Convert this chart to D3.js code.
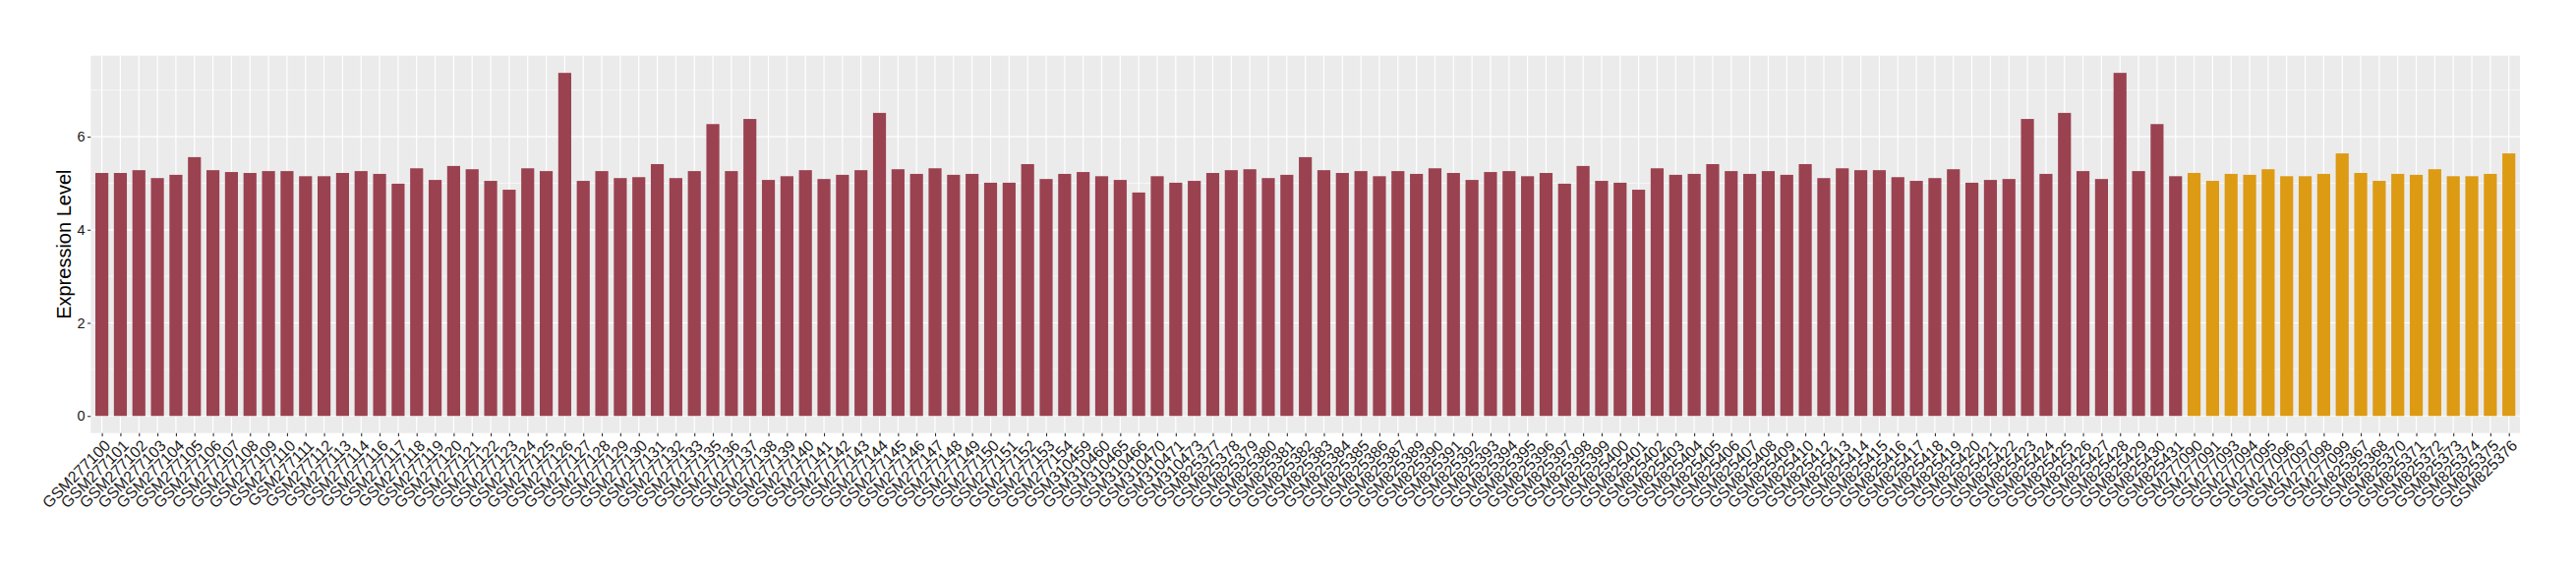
<!DOCTYPE html>
<html>
<head>
<meta charset="utf-8">
<script src="https://cdn.jsdelivr.net/npm/d3@7"></script>
<style>
  html, body { margin: 0; padding: 0; background: #ffffff; }
  svg { display: block; }
  text { font-family: "Liberation Sans", Arial, Helvetica, sans-serif; }
</style>
</head>
<body>
<svg id="chart" width="2620" height="580"></svg>
<script>
// ---- data ----
const samplesGroup1 = [
  "GSM277100","GSM277101","GSM277102","GSM277103","GSM277104","GSM277105","GSM277106","GSM277107",
  "GSM277108","GSM277109","GSM277110","GSM277111","GSM277112","GSM277113","GSM277114","GSM277116",
  "GSM277117","GSM277118","GSM277119","GSM277120","GSM277121","GSM277122","GSM277123","GSM277124",
  "GSM277125","GSM277126","GSM277127","GSM277128","GSM277129","GSM277130","GSM277131","GSM277132",
  "GSM277133","GSM277135","GSM277136","GSM277137","GSM277138","GSM277139","GSM277140","GSM277141",
  "GSM277142","GSM277143","GSM277144","GSM277145","GSM277146","GSM277147","GSM277148","GSM277149",
  "GSM277150","GSM277151","GSM277152","GSM277153","GSM277154",
  "GSM310459","GSM310460","GSM310465","GSM310466","GSM310470","GSM310471","GSM310473",
  "GSM825377","GSM825378","GSM825379","GSM825380","GSM825381","GSM825382","GSM825383","GSM825384",
  "GSM825385","GSM825386","GSM825387","GSM825389","GSM825390","GSM825391","GSM825392","GSM825393",
  "GSM825394","GSM825395","GSM825396","GSM825397","GSM825398","GSM825399","GSM825400","GSM825401",
  "GSM825402","GSM825403","GSM825404","GSM825405","GSM825406","GSM825407","GSM825408","GSM825409",
  "GSM825410","GSM825412","GSM825413","GSM825414","GSM825415","GSM825416","GSM825417","GSM825418",
  "GSM825419","GSM825420","GSM825421","GSM825422","GSM825423","GSM825424","GSM825425","GSM825426",
  "GSM825427","GSM825428","GSM825429","GSM825430","GSM825431"
];
const valuesGroup1 = [
  5.22, 5.22, 5.28, 5.11, 5.18, 5.56, 5.28, 5.24, 5.22, 5.26, 5.26, 5.15, 5.15, 5.22, 5.26, 5.20,
  4.99, 5.32, 5.07, 5.37, 5.30, 5.05, 4.86, 5.32, 5.26, 7.37,
  5.05, 5.26, 5.11, 5.13, 5.41, 5.11, 5.26, 6.27, 5.26, 6.38, 5.07, 5.15, 5.28, 5.09, 5.18, 5.28,
  6.51, 5.30, 5.20, 5.32, 5.18, 5.20, 5.01, 5.01, 5.41, 5.09, 5.20,
  5.24, 5.15, 5.07, 4.80, 5.15, 5.01, 5.05,
  5.22, 5.28, 5.30, 5.11, 5.18, 5.56, 5.28, 5.22, 5.26, 5.15, 5.26, 5.20, 5.32, 5.22, 5.07, 5.24,
  5.26, 5.15, 5.22, 4.99, 5.37, 5.05, 5.01, 4.86, 5.32, 5.18, 5.20, 5.41, 5.26, 5.20, 5.26, 5.18,
  5.41, 5.11, 5.32, 5.28, 5.28, 5.13, 5.05, 5.11, 5.30, 5.01, 5.07, 5.09, 6.38, 5.20, 6.51, 5.26,
  5.09, 7.37, 5.26, 6.27, 5.15
];
const samplesGroup2 = [
  "GSM277090","GSM277091","GSM277093","GSM277094","GSM277095","GSM277096","GSM277097","GSM277098",
  "GSM277099","GSM825367","GSM825368","GSM825370","GSM825371","GSM825372","GSM825373","GSM825374",
  "GSM825375","GSM825376"
];
const valuesGroup2 = [
  5.22, 5.05, 5.20, 5.18, 5.30, 5.15, 5.15, 5.20, 5.64,
  5.22, 5.05, 5.20, 5.18, 5.30, 5.15, 5.15, 5.20, 5.64
];
const yTicksMajor = [0, 2, 4, 6];
const yTicksMinor = [1, 3, 5, 7];
const yTitle = "Expression Level";
const groupColors = ["#9B4251", "#DD9A13"];

// ---- build rows ----
const rows = samplesGroup1.map((s, i) => ({ sample: s, value: valuesGroup1[i], group: 0 }))
  .concat(samplesGroup2.map((s, i) => ({ sample: s, value: valuesGroup2[i], group: 1 })));

const svg = d3.select("#chart");
const panel = { left: 92.3, right: 2563, top: 56.7 };
const maxV = d3.max(rows, d => d.value);

const x = d3.scalePoint()
  .domain(rows.map(d => d.sample))
  .range([panel.left, panel.right])
  .padding(0.6);
const step = x.step();
const barW = step * 0.7;

const y = d3.scaleLinear()
  .domain([-0.05 * maxV, 1.05 * maxV])
  .range([440.7, panel.top]);
const panelBottom = y(-0.05 * maxV);

// panel background
svg.append("rect")
  .attr("x", panel.left).attr("y", panel.top)
  .attr("width", panel.right - panel.left).attr("height", panelBottom - panel.top)
  .attr("fill", "#EBEBEB");

// minor horizontal grid
svg.append("g").selectAll("line").data(yTicksMinor).join("line")
  .attr("x1", panel.left).attr("x2", panel.right)
  .attr("y1", d => y(d)).attr("y2", d => y(d))
  .attr("stroke", "#ffffff").attr("stroke-width", 0.6);
// major horizontal grid
svg.append("g").selectAll("line").data(yTicksMajor).join("line")
  .attr("x1", panel.left).attr("x2", panel.right)
  .attr("y1", d => y(d)).attr("y2", d => y(d))
  .attr("stroke", "#ffffff").attr("stroke-width", 1.2);
// vertical grid
svg.append("g").selectAll("line").data(rows).join("line")
  .attr("x1", d => x(d.sample)).attr("x2", d => x(d.sample))
  .attr("y1", panel.top).attr("y2", panelBottom)
  .attr("stroke", "#ffffff").attr("stroke-width", 1.2);

// bars
svg.append("g").selectAll("rect").data(rows).join("rect")
  .attr("x", d => x(d.sample) - barW / 2)
  .attr("width", barW)
  .attr("y", d => y(d.value))
  .attr("height", d => y(0) - y(d.value))
  .attr("fill", d => groupColors[d.group]);

// y axis
const yAxis = d3.axisLeft(y).tickValues(yTicksMajor).tickSize(3.3).tickPadding(2.5).tickFormat(d3.format("d"));
const gy = svg.append("g").attr("transform", `translate(${panel.left},0)`).call(yAxis);
gy.select(".domain").remove();
gy.selectAll(".tick line").attr("stroke", "#333333").attr("stroke-width", 1.1);
gy.selectAll(".tick text").attr("fill", "#1a1a1a").style("font-size", "14.5px")
  .style("font-family", "'Liberation Sans', Arial, sans-serif");

// x axis
const xAxis = d3.axisBottom(x).tickSize(3.3).tickFormat(d => d);
const gx = svg.append("g").attr("transform", `translate(0,${panelBottom})`).call(xAxis);
gx.select(".domain").remove();
gx.selectAll(".tick line").attr("stroke", "#333333").attr("stroke-width", 1.1);
gx.selectAll(".tick text")
  .attr("fill", "#1a1a1a")
  .style("font-size", "16px")
  .style("font-family", "'Liberation Sans', Arial, sans-serif")
  .attr("text-anchor", "end")
  .attr("y", 0).attr("dy", "0.72em")
  .attr("transform", "translate(1,5.5) rotate(-45)");

// y title
svg.append("text")
  .attr("transform", `translate(65,${(panel.top + panelBottom) / 2}) rotate(-90)`)
  .attr("text-anchor", "middle")
  .attr("dy", "0.35em")
  .attr("fill", "#000000")
  .style("font-size", "20px")
  .text(yTitle);
</script>
</body>
</html>
